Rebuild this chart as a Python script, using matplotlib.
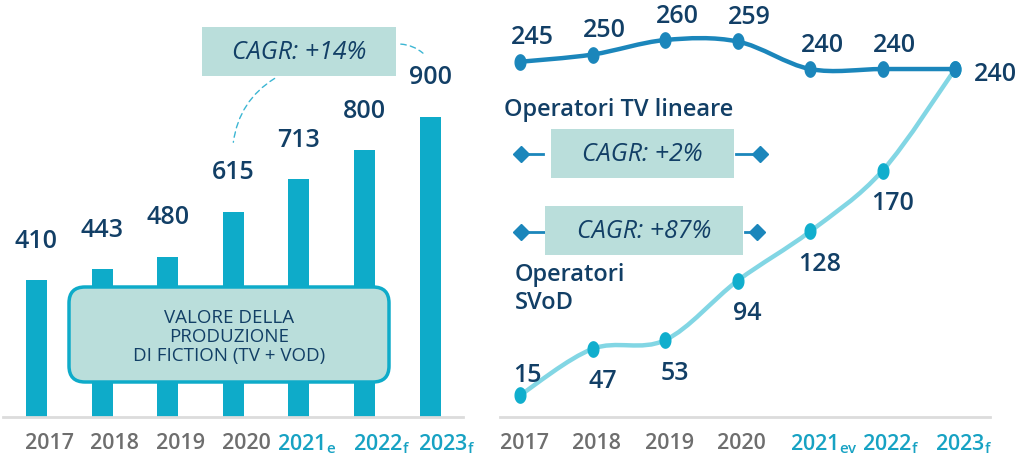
import numpy as np
import matplotlib
matplotlib.use("Agg")
import matplotlib.pyplot as plt
from matplotlib.path import Path
from matplotlib.patches import PathPatch, FancyBboxPatch, Rectangle
from matplotlib.lines import Line2D
from matplotlib.transforms import IdentityTransform

plt.rcParams['font.family'] = ['Open Sans', 'DejaVu Sans']

# ---- data ----
years = ["2017", "2018", "2019", "2020", "2021", "2022", "2023"]
bar_subs = ["", "", "", "", "e", "f", "f"]
line_subs = ["", "", "", "", "ev", "f", "f"]
fiction_value = [410, 443, 480, 615, 713, 800, 900]
tv_lineare = [245, 250, 260, 259, 240, 240, 240]
svod = [15, 47, 53, 94, 128, 170, 240]

DARK = "#123f66"
BAR = "#0eabc9"
TV_COL = "#1b86bb"
SVOD_COL = "#82d6e4"
SVOD_MK = "#10aecd"
BOX = "#badedb"
GRAY = "#6e6e6e"
TEAL = "#17a2c3"
W, H = 1019, 460
NUM_FS = 18
WT = "semibold"

fig = plt.figure(figsize=(W / 100, H / 100), dpi=100)
ident = IdentityTransform()


def fx(x):
    return x / W


def fy(y):
    return 1 - y / H


def tick_label(i, sub):
    if sub:
        return years[i] + r"$_\mathregular{" + sub + "}$"
    return years[i]


# ---- left: bar chart ----
ax1 = fig.add_axes([fx(3), 42 / H, 460 / W, 418 / H])
x = np.arange(len(years))
ax1.bar(x, fiction_value, width=0.32, color=BAR, zorder=2)
ax1.set_xlim(-0.51, 6.5)
ax1.set_ylim(0, 1254)
for i, v in enumerate(fiction_value):
    ax1.annotate(str(v), (i, v), xytext=(0, 40), textcoords="offset pixels",
                 ha="center", va="center", fontsize=NUM_FS, color=DARK,
                 fontweight=WT)
for i, s in enumerate(bar_subs):
    off = -0.33 if i == 4 else -0.18
    ax1.annotate(tick_label(i, s), (i + off, 0), xytext=(0, -26),
                 textcoords="offset pixels", ha="left", va="center",
                 fontsize=15.5, color=TEAL if s else GRAY, fontweight=WT,
                 annotation_clip=False)

# ---- right: line chart ----
ax2 = fig.add_axes([fx(500), 42 / H, 490 / W, 418 / H])
ax2.set_xlim(-0.276, 6.48)
ax2.set_ylim(0, 288.3)


def smooth(xs, ys):
    pts = np.column_stack([xs, ys]).astype(float)
    n = len(pts)
    verts = [pts[0]]
    codes = [Path.MOVETO]
    for i in range(n - 1):
        p0 = pts[max(i - 1, 0)]
        p1 = pts[i]
        p2 = pts[i + 1]
        p3 = pts[min(i + 2, n - 1)]
        verts += [p1 + (p2 - p0) / 6, p2 - (p3 - p1) / 6, p2]
        codes += [Path.CURVE4] * 3
    return Path(verts, codes)


t = np.linspace(0, 2 * np.pi, 40)
ellipse = Path(np.column_stack([0.7 * np.cos(t), np.sin(t)]))

ax2.add_patch(PathPatch(smooth(x, svod), fill=False, ec=SVOD_COL, lw=3.2,
                        capstyle="round", zorder=2))
ax2.plot(x, svod, ls="none", marker=ellipse, ms=11, color=SVOD_MK, zorder=3)
ax2.add_patch(PathPatch(smooth(x, tv_lineare), fill=False, ec=TV_COL, lw=3.2,
                        capstyle="round", zorder=4))
ax2.plot(x, tv_lineare, ls="none", marker=ellipse, ms=11, color=TV_COL, zorder=5)

for i, v in enumerate(tv_lineare):
    off = (40, -4) if i == 6 else (12, 25)
    ax2.annotate(str(v), (i, v), xytext=off, textcoords="offset pixels",
                 ha="center", va="center", fontsize=NUM_FS, color=DARK,
                 fontweight=WT, annotation_clip=False)
for i, v in enumerate(svod[:-1]):
    off = (7, 21) if i == 0 else (10, -32)
    ax2.annotate(str(v), (i, v), xytext=off, textcoords="offset pixels",
                 ha="center", va="center", fontsize=NUM_FS, color=DARK,
                 fontweight=WT)
for i, s in enumerate(line_subs):
    ax2.annotate(tick_label(i, s), (i - 0.28, 0), xytext=(0, -26),
                 textcoords="offset pixels", ha="left", va="center",
                 fontsize=15.5, color=TEAL if s else GRAY, fontweight=WT,
                 annotation_clip=False)

for ax in (ax1, ax2):
    for sp in ("top", "left", "right"):
        ax.spines[sp].set_visible(False)
    ax.spines["bottom"].set_color("#dcdcdc")
    ax.spines["bottom"].set_linewidth(2)
    ax.set_xticks([])
    ax.set_yticks([])
    ax.patch.set_alpha(0)

# ---- annotations ----
# value box on the bars
fig.add_artist(FancyBboxPatch((69, H - 383), 320, 95,
                              boxstyle="round,pad=0,rounding_size=16",
                              fc=BOX, ec=BAR, lw=2.5, transform=ident, zorder=10))
fig.text(fx(229), fy(337), "VALORE DELLA\nPRODUZIONE\nDI FICTION (TV + VOD)",
         ha="center", va="center", fontsize=13.5, color=DARK, linespacing=1.1,
         zorder=11)

# CAGR boxes
cagr_boxes = [((202, 28, 194, 49), "CAGR: +14%"),
              ((551, 130, 183, 49), "CAGR: +2%"),
              ((545, 207, 198, 49), "CAGR: +87%")]
for (bx, by, bw, bh), label in cagr_boxes:
    fig.add_artist(Rectangle((bx, H - by - bh), bw, bh, fc=BOX, ec="none",
                             transform=ident, zorder=10))
    fig.text(fx(bx + bw / 2), fy(by + bh / 2), label, ha="center", va="center",
             fontsize=18, style="italic", color=DARK, zorder=11)

# dashed connectors of the +14% box
ax1.annotate("", xy=(fx(233), fy(146)), xytext=(fx(277), fy(78)),
             xycoords="figure fraction", textcoords="figure fraction",
             arrowprops=dict(arrowstyle="-", ls=(0, (4, 3)), color="#3cb6d3",
                             lw=1, connectionstyle="arc3,rad=0.25"))
ax1.annotate("", xy=(fx(425), fy(56)), xytext=(fx(398), fy(45)),
             xycoords="figure fraction", textcoords="figure fraction",
             arrowprops=dict(arrowstyle="-", ls=(0, (4, 3)), color="#3cb6d3",
                             lw=1, connectionstyle="arc3,rad=-0.2"))

# diamonds and stubs around the line-chart CAGR boxes
for (x0, x1, xa, xb, yy) in [(521, 760, 543, 736, 155), (521, 757, 545, 745, 233)]:
    fig.add_artist(Line2D([x0, xa], [H - yy, H - yy], color=TV_COL, lw=2,
                          transform=ident, zorder=9))
    fig.add_artist(Line2D([xb, x1], [H - yy, H - yy], color=TV_COL, lw=2,
                          transform=ident, zorder=9))
    fig.add_artist(Line2D([x0, x1], [H - yy, H - yy], ls="none", marker="D",
                          ms=8, color=TV_COL, transform=ident, zorder=9))

fig.text(fx(504), fy(110), "Operatori TV lineare", ha="left", va="center",
         fontsize=17, color=DARK, fontweight=WT)
fig.text(fx(515), fy(289), "Operatori\nSVoD", ha="left", va="center",
         fontsize=17, color=DARK, fontweight=WT, linespacing=1.2)

fig.savefig("out.png", dpi=100)
